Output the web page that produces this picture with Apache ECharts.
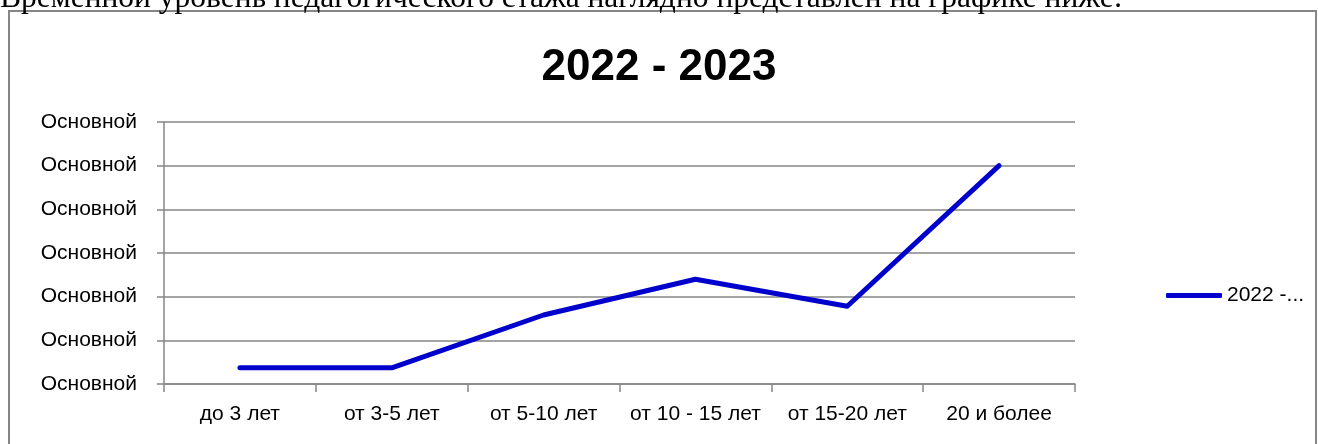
<!DOCTYPE html>
<html>
<head>
<meta charset="utf-8">
<script src="https://cdn.jsdelivr.net/npm/echarts@6/dist/echarts.min.js"></script>
<style>
  html, body { margin: 0; padding: 0; background: #fff; }
  #chart { width: 1318px; height: 444px; }
</style>
</head>
<body>
<div id="chart"></div>
<script>
// data
const categories = ['до 3 лет', 'от 3-5 лет', 'от 5-10 лет', 'от 10 - 15 лет', 'от 15-20 лет', '20 и более'];
const seriesName = '2022 - 2023';
const values = [3.7, 3.7, 15.8, 24, 17.8, 50];
const yLabel = 'Основной'; // every y tick shows the same text

const font = 'Liberation Sans';
const gray = '#868686';
const blue = '#0000CC';

const myChart = echarts.init(document.getElementById('chart'));

let option = {
    backgroundColor: '#fff',
    animation: false,
    title: {
        text: seriesName,
        left: 'center',
        top: 41,
        textStyle: { fontFamily: font, fontSize: 44, fontWeight: 'bold', color: '#000' }
    },
    graphic: [
        // text from the document above the chart, clipped at the top
        {
            type: 'text',
            style: {
                x: 0, y: 15, verticalAlign: 'bottom',
                text: 'Временной уровень педагогического стажа наглядно представлен на графике ниже:',
                font: '31.5px "Liberation Serif"', fill: '#000'
            }
        },
        // chart frame
        {
            type: 'rect', shape: { x: 9, y: 11, width: 1307, height: 450 },
            style: { fill: 'none', stroke: gray, lineWidth: 2 }, z: -1
        }
    ],
    legend: {
        data: [seriesName],
        left: 1161,
        top: 280,
        itemWidth: 56,
        itemHeight: 5,
        itemGap: 4,
        icon: 'roundRect',
        formatter: name => name.slice(0, 6) + '...',
        textStyle: { fontFamily: font, fontSize: 21, color: '#000' }
    },
    grid: { left: 164, right: 243, top: 122, bottom: 60 },
    xAxis: {
        type: 'category',
        data: categories,
        boundaryGap: true,
        axisLine: { lineStyle: { color: gray, width: 1.5 } },
        axisTick: { show: true, length: 8, lineStyle: { color: gray, width: 1.5 } },
        axisLabel: { margin: 20, fontFamily: font, fontSize: 21, color: '#000', interval: 0 }
    },
    yAxis: {
        type: 'value',
        min: 0,
        max: 60,
        interval: 10,
        axisLine: { show: true, lineStyle: { color: gray, width: 1.5 } },
        axisTick: { show: true, length: 7, lineStyle: { color: gray, width: 1.5 } },
        splitLine: { lineStyle: { color: gray, width: 1.5 } },
        axisLabel: { margin: 27, fontFamily: font, fontSize: 21, color: '#000', formatter: () => yLabel }
    },
    series: [{
        name: seriesName,
        type: 'line',
        data: values,
        symbol: 'none',
        lineStyle: { color: blue, width: 5, cap: 'round', join: 'round' },
        itemStyle: { color: blue }
    }]
};
myChart.setOption(option);
</script>
</body>
</html>
